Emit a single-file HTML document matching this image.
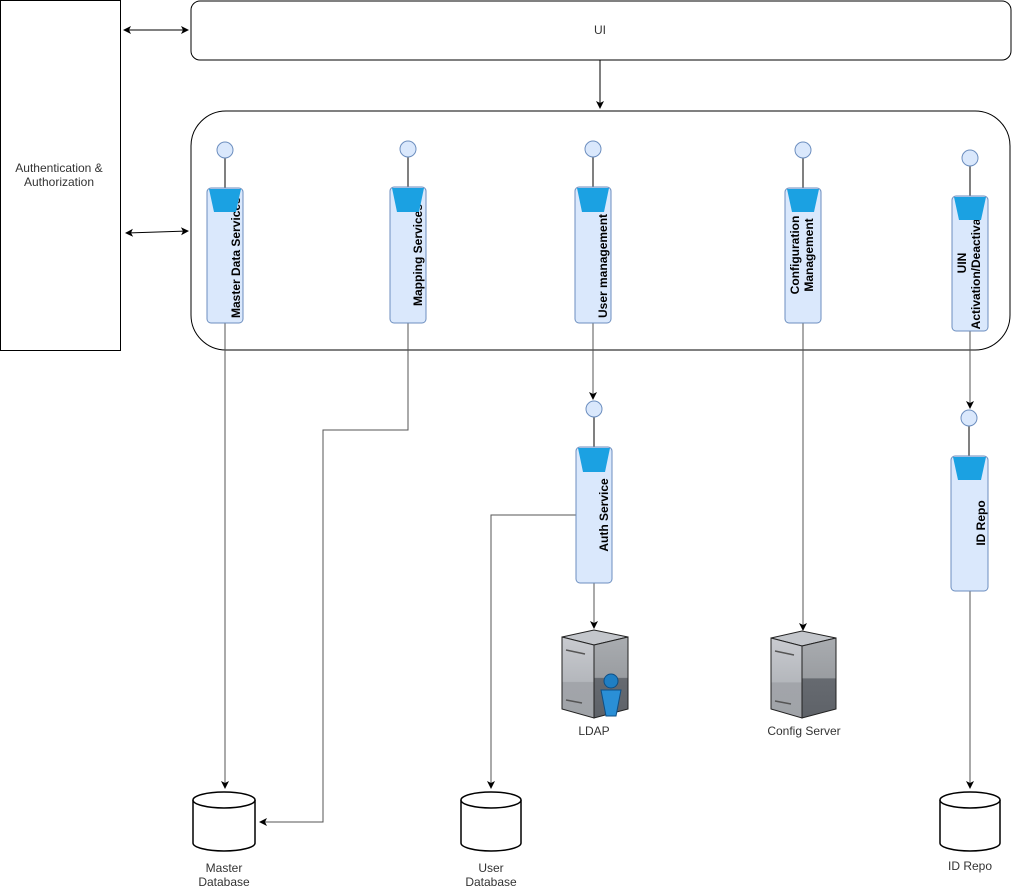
<!DOCTYPE html>
<html><head><meta charset="utf-8"><style>
html,body{margin:0;padding:0;background:#fff;}
svg{display:block;font-family:"Liberation Sans",Arial,sans-serif;}
</style></head><body>
<svg width="1015" height="888" viewBox="0 0 1015 888" xmlns="http://www.w3.org/2000/svg">
<defs>
<marker id="a" markerWidth="10" markerHeight="10" refX="8" refY="5" orient="auto" markerUnits="userSpaceOnUse">
<path d="M1,1 L9,5 L1,9 L3,5 Z" fill="#000"/></marker>
<marker id="s" markerWidth="10" markerHeight="10" refX="2" refY="5" orient="auto" markerUnits="userSpaceOnUse">
<path d="M9,1 L1,5 L9,9 L7,5 Z" fill="#000"/></marker>
<linearGradient id="g1" x1="0" y1="0" x2="0" y2="1"><stop offset="0" stop-color="#c9cbd0"/><stop offset="0.55" stop-color="#b4b7bc"/><stop offset="0.56" stop-color="#a2a5aa"/><stop offset="1" stop-color="#a0a3a8"/></linearGradient>
<linearGradient id="g2" x1="0" y1="0" x2="0" y2="1"><stop offset="0" stop-color="#a9acb0"/><stop offset="0.5" stop-color="#9a9da1"/><stop offset="0.51" stop-color="#666a70"/><stop offset="1" stop-color="#5e6268"/></linearGradient>
</defs>
<g fill="none" stroke="#000" stroke-width="1">
<rect x="0.5" y="0.5" width="120" height="350"/>
<rect x="191" y="1" width="820" height="59" rx="9"/>
<rect x="191" y="111" width="819" height="239" rx="35"/>
</g>
<text x="59" y="172" font-size="12" fill="#333" text-anchor="middle">Authentication &amp;</text>
<text x="59" y="186" font-size="12" fill="#333" text-anchor="middle">Authorization</text>
<text x="600" y="34" font-size="12" fill="#333" text-anchor="middle">UI</text>
<g stroke="#000" fill="none">
<line x1="124" y1="30" x2="188" y2="30" marker-start="url(#s)" marker-end="url(#a)"/>
<line x1="126" y1="233" x2="188" y2="231" marker-start="url(#s)" marker-end="url(#a)"/>
<line x1="600" y1="60" x2="600" y2="108" marker-end="url(#a)"/>
</g>
<g stroke="#555" fill="none">
<line x1="225" y1="323" x2="225" y2="788" marker-end="url(#a)"/>
<polyline points="408,323 408,430 323,430 323,822 260,822" marker-end="url(#a)"/>
<line x1="593" y1="323" x2="593" y2="399" marker-end="url(#a)"/>
<polyline points="576,515 491,515 491,788" marker-end="url(#a)"/>
<line x1="594" y1="583" x2="594" y2="628" marker-end="url(#a)"/>
<line x1="803" y1="323" x2="803" y2="630" marker-end="url(#a)"/>
<line x1="970" y1="331" x2="970" y2="408" marker-end="url(#a)"/>
<line x1="970" y1="591" x2="970" y2="788" marker-end="url(#a)"/>
</g>
<!-- services -->
<g id="svc">
<!-- Master -->
<line x1="225" y1="158" x2="225" y2="188" stroke="#000"/>
<circle cx="225" cy="150" r="8" fill="#dae8fc" stroke="#6c8ebf"/>
<rect x="207" y="188" width="36" height="135" rx="4" fill="#dae8fc" stroke="#6c8ebf"/>
<line x1="408" y1="157" x2="408" y2="187" stroke="#000"/>
<circle cx="408" cy="149" r="8" fill="#dae8fc" stroke="#6c8ebf"/>
<rect x="390" y="187" width="36" height="136" rx="4" fill="#dae8fc" stroke="#6c8ebf"/>
<line x1="593" y1="157" x2="593" y2="187" stroke="#000"/>
<circle cx="593" cy="149" r="8" fill="#dae8fc" stroke="#6c8ebf"/>
<rect x="575" y="187" width="36" height="136" rx="4" fill="#dae8fc" stroke="#6c8ebf"/>
<line x1="803" y1="158" x2="803" y2="188" stroke="#000"/>
<circle cx="803" cy="150" r="8" fill="#dae8fc" stroke="#6c8ebf"/>
<rect x="785" y="188" width="36" height="135" rx="4" fill="#dae8fc" stroke="#6c8ebf"/>
<line x1="970" y1="166" x2="970" y2="196" stroke="#000"/>
<circle cx="970" cy="158" r="8" fill="#dae8fc" stroke="#6c8ebf"/>
<rect x="952" y="196" width="36" height="135" rx="4" fill="#dae8fc" stroke="#6c8ebf"/>
<line x1="594" y1="417" x2="594" y2="447" stroke="#000"/>
<circle cx="594" cy="409" r="8" fill="#dae8fc" stroke="#6c8ebf"/>
<rect x="576" y="447" width="36" height="136" rx="4" fill="#dae8fc" stroke="#6c8ebf"/>
<line x1="969" y1="426" x2="969" y2="456" stroke="#000"/>
<circle cx="969" cy="418" r="8" fill="#dae8fc" stroke="#6c8ebf"/>
<rect x="951" y="456" width="37" height="135" rx="4" fill="#dae8fc" stroke="#6c8ebf"/>
</g>
<g font-size="12" font-weight="bold" fill="#000">
<text transform="translate(240,318) rotate(-90)">Master Data Services</text>
<text transform="translate(422,306) rotate(-90)">Mapping Services</text>
<text transform="translate(607,318) rotate(-90)">User management</text>
<text transform="translate(803,255) rotate(-90)" text-anchor="middle"><tspan x="0" y="-4">Configuration</tspan><tspan x="0" y="10">Management</tspan></text>
<text transform="translate(970,263) rotate(-90)" text-anchor="middle"><tspan x="0" y="-4">UIN</tspan><tspan x="0" y="10">Activation/Deactivation</tspan></text>
<text transform="translate(608,515) rotate(-90)" text-anchor="middle">Auth Service</text>
<text transform="translate(985,523) rotate(-90)" text-anchor="middle">ID Repo</text>
</g>
<g fill="#1ba1e2">
<polygon points="209,189 241,189 236,212 214,212"/>
<polygon points="392,188 424,188 419,212 397,212"/>
<polygon points="577,188 609,188 604,212 582,212"/>
<polygon points="787,189 819,189 814,212 792,212"/>
<polygon points="954,197 986,197 981,220 959,220"/>
<polygon points="578,448 610,448 605,472 583,472"/>
<polygon points="953,457 986,457 981,480 958,480"/>
</g>
<!-- cylinders -->
<g fill="#fff" stroke="#000" stroke-width="1.5">
<path d="M193,800 L193,843 A31,8 0 0 0 255,843 L255,800"/><ellipse cx="224" cy="800" rx="31" ry="8"/>
<path d="M461,800 L461,843 A30,8 0 0 0 521,843 L521,800"/><ellipse cx="491" cy="800" rx="30" ry="8"/>
<path d="M940,800 L940,843 A30,8 0 0 0 1000,843 L1000,800"/><ellipse cx="970" cy="800" rx="30" ry="8"/>
</g>
<g font-size="12" fill="#333" text-anchor="middle">
<text x="224" y="872">Master</text><text x="224" y="886">Database</text>
<text x="491" y="872">User</text><text x="491" y="886">Database</text>
<text x="970" y="870">ID Repo</text>
<text x="594" y="735">LDAP</text>
<text x="804" y="735">Config Server</text>
</g>
<!-- servers -->
<g stroke="#222" stroke-width="1">
<polygon points="562,637 594,630 628,637 594,645" fill="#c3c6cb"/>
<polygon points="562,637 594,645 594,718 562,709" fill="url(#g1)"/>
<polygon points="594,645 628,637 628,709 594,718" fill="url(#g2)"/>
<polygon points="771,638 802,631 836,638 802,646" fill="#c3c6cb"/>
<polygon points="771,638 802,646 802,718 771,709" fill="url(#g1)"/>
<polygon points="802,646 836,638 836,709 802,718" fill="url(#g2)"/>
</g>
<g stroke="#555" stroke-width="1.5">
<line x1="566" y1="650" x2="585" y2="654"/><line x1="566" y1="700" x2="582" y2="703"/>
<line x1="775" y1="651" x2="794" y2="655"/><line x1="775" y1="701" x2="791" y2="704"/>
</g>
<circle cx="611" cy="681" r="7" fill="#1f7fc4" stroke="#0e4f85"/>
<path d="M601,690 L621,690 L616,716 L606,716 Z" fill="#2a8fd6" stroke="#0e4f85"/>
</svg>
</body></html>
